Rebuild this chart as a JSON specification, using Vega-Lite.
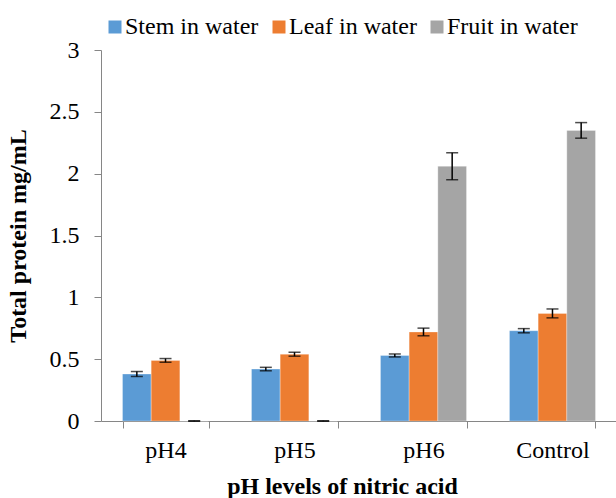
{
  "$schema": "https://vega.github.io/schema/vega-lite/v6.json",
  "autosize": "none",
  "width": 516,
  "height": 371,
  "padding": {"left": 101, "top": 50, "right": 0, "bottom": 77},
  "config": {
    "font": "Liberation Serif",
    "view": {"stroke": null},
    "axis": {"grid": false, "domainColor": "#868686", "tickColor": "#868686", "labelColor": "#000000", "titleColor": "#000000", "labelFont": "Liberation Serif", "titleFont": "Liberation Serif", "labelFontSize": 24, "titleFontSize": 24, "titleFontWeight": "bold"},
    "legend": {"labelFont": "Liberation Serif", "labelFontSize": 24, "labelColor": "#000000"}
  },
  "data": {
    "values": [
      {"ph": "pH4", "sample": "Stem in water", "protein": 0.38, "err": 0.02},
      {"ph": "pH4", "sample": "Leaf in water", "protein": 0.49, "err": 0.015},
      {"ph": "pH4", "sample": "Fruit in water", "protein": 0.0, "err": 0.002},
      {"ph": "pH5", "sample": "Stem in water", "protein": 0.42, "err": 0.014},
      {"ph": "pH5", "sample": "Leaf in water", "protein": 0.54, "err": 0.016},
      {"ph": "pH5", "sample": "Fruit in water", "protein": 0.0, "err": 0.002},
      {"ph": "pH6", "sample": "Stem in water", "protein": 0.53, "err": 0.012},
      {"ph": "pH6", "sample": "Leaf in water", "protein": 0.72, "err": 0.031},
      {"ph": "pH6", "sample": "Fruit in water", "protein": 2.06, "err": 0.109},
      {"ph": "Control", "sample": "Stem in water", "protein": 0.73, "err": 0.017},
      {"ph": "Control", "sample": "Leaf in water", "protein": 0.87, "err": 0.036},
      {"ph": "Control", "sample": "Fruit in water", "protein": 2.35, "err": 0.063}
    ]
  },
  "encoding": {
    "x": {
      "field": "ph", "type": "nominal", "sort": ["pH4", "pH5", "pH6", "Control"],
      "scale": {"paddingInner": 0.333, "paddingOuter": 0.1667},
      "axis": {"title": "pH levels of nitric acid", "labelAngle": 0, "tickBand": "extent", "tickSize": 7, "labelPadding": 10, "titlePadding": 12, "titleX": 241, "titleAnchor": "start", "titleAlign": "center"}
    },
    "xOffset": {"field": "sample", "type": "nominal", "sort": ["Stem in water", "Leaf in water", "Fruit in water"], "scale": {"paddingInner": 0, "paddingOuter": 0}},
    "y": {"field": "protein", "type": "quantitative", "scale": {"domain": [0, 3]}, "axis": {"title": "Total protein mg/mL", "values": [0, 0.5, 1, 1.5, 2, 2.5, 3], "format": "~g", "tickSize": 7, "labelPadding": 15, "titlePadding": 19}}
  },
  "layer": [
    {
      "mark": {"type": "bar", "stroke": "#ffffff", "strokeOpacity": 0.5, "strokeWidth": 0.6},
      "encoding": {
        "color": {
          "field": "sample", "type": "nominal",
          "sort": ["Stem in water", "Leaf in water", "Fruit in water"],
          "scale": {"domain": ["Stem in water", "Leaf in water", "Fruit in water"], "range": ["#5B9BD5", "#ED7D31", "#A5A5A5"]},
          "legend": {"title": null, "orient": "none", "direction": "horizontal", "legendX": 2, "legendY": -35, "symbolType": "square", "symbolSize": 169, "symbolStrokeWidth": 0, "labelOffset": -2, "columnPadding": 8}
        }
      }
    },
    {
      "mark": {"type": "errorbar", "ticks": {"size": 12, "thickness": 1.5, "color": "#000000"}, "rule": {"strokeWidth": 1.5, "color": "#000000"}, "color": "#000000"},
      "encoding": {
        "yError": {"field": "err"}
      }
    }
  ]
}
